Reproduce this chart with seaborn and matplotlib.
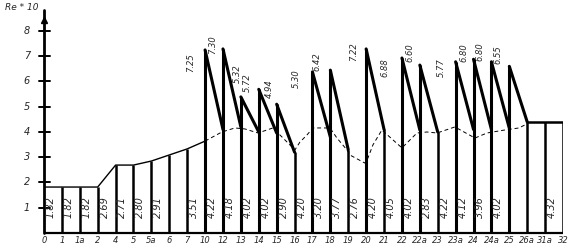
import matplotlib
matplotlib.use("Agg")
import matplotlib.pyplot as plt
import seaborn as sns

# station names along the bottom
stations = ['0', '1', '1a', '2', '4', '5', '5a', '6', '7', '10', '12', '13', '14', '15', '16',
            '17', '18', '19', '20', '21', '22', '22a', '23', '23a', '24', '24a', '25', '26a',
            '31a', '32']

# solid curve on the left part (station index, Re)
left_x = [0, 3, 4, 5, 6, 7, 8, 9]
left_re = [1.82, 1.82, 2.69, 2.69, 2.85, 3.09, 3.33, 3.64]

# dashed curve without the jumps
dash_x = [9.0, 9.94, 10.67, 11.23, 11.96, 12.79, 13.3, 14.02, 14.3, 14.69, 15.03, 15.98,
          16.37, 16.93, 17.09, 17.93, 18.1, 18.38, 18.88, 20.0, 20.84, 21.4, 21.96, 22.96,
          24.08, 24.75, 25.75, 26.54, 26.87]
dash_re = [3.64, 4.0, 4.16, 4.12, 3.96, 4.16, 3.8, 3.29, 3.6, 3.88, 4.16, 4.16,
           3.76, 3.29, 3.09, 2.77, 2.97, 3.49, 4.08, 3.37, 3.96, 4.0, 3.96, 4.2,
           3.76, 3.96, 4.08, 4.16, 4.28]

# jumps: peak at a station, then a straight fall to the next station
peak_idx = [9, 10, 11, 12, 13, 15, 16, 18, 20, 21, 23, 24, 25, 26]
peak_re = [7.25, 7.29, 5.39, 5.69, 5.10, 6.38, 6.45, 7.29, 6.93, 6.65, 6.78, 6.88, 6.78, 6.60]
drop_re = [4.10, 4.20, 4.00, 3.96, 3.20, 3.80, 3.30, 4.10, 4.08, 4.00, 4.10, 4.10, 4.15, 4.40]

# stations without a jump
plain_idx = [1, 2, 3, 4, 5, 6, 7, 8, 14, 17, 19, 22, 27, 28, 29]
plain_re = [1.82, 1.82, 1.82, 2.69, 2.69, 2.85, 3.09, 3.33, 3.20, 3.30, 4.10, 4.00, 4.40, 4.40, 4.40]

# flat end
tail_x = [27, 29]
tail_re = [4.40, 4.40]

# labels over the peaks
peak_text = ['7.25', '7.30', '5.32', '5.72', '4.94', '5.30', '6.42', '7.22',
             '6.88', '6.60', '5.77', '6.80', '6.80', '6.55']
peak_text_pos = [(8.2, 6.73), (9.4, 7.45), (10.8, 6.3), (11.35, 5.94), (12.6, 5.7),
                 (14.1, 6.1), (15.25, 6.77), (17.3, 7.17), (19.05, 6.53), (20.45, 7.13),
                 (22.2, 6.53), (23.45, 7.13), (24.35, 7.17), (25.35, 7.05)]

# labels written in the bays near the bottom
low_idx = [0, 1, 2, 3, 4, 5, 6, 8, 9, 10, 11, 12, 13, 14, 15, 16, 17, 18, 19, 20, 21, 22,
           23, 24, 25, 28]
low_text = ['1.82', '1.82', '1.82', '2.69', '2.71', '2.80', '2.91', '3.51', '4.22', '4.18',
            '4.02', '4.02', '2.90', '4.20', '3.20', '3.77', '2.76', '4.20', '4.05', '4.02',
            '2.83', '4.22', '4.12', '3.96', '4.02', '4.32']

y_ticks = [1, 2, 3, 4, 5, 6, 7, 8]

sns.set_style("white")
plt.rcParams['font.family'] = ['DejaVu Sans']

fig = plt.figure(figsize=(5.72, 2.5), dpi=100)
ax = fig.add_axes([44 / 572, 17 / 250, 519 / 572, 226 / 250])
ax.set_xlim(0, 29)
ax.set_ylim(0, 8.95)
ax.axis('off')

# base line and y axis with arrow
ax.plot([0, 29], [0, 0], color='black', lw=1.6, solid_capstyle='butt', clip_on=False)
ax.plot([0, 0], [0, 8.85], color='black', lw=2.0, clip_on=False)
ax.plot([0], [8.45], marker='^', color='black', markersize=5, clip_on=False)
for t in y_ticks:
    ax.plot([-0.28, 0.34], [t, t], color='black', lw=1.4, clip_on=False)
    ax.text(-0.95, t, str(t), ha='center', va='center', fontsize=7, style='italic')
ax.text(-1.25, 8.95, 'Re * 10', ha='center', va='center', fontsize=6.5, style='italic')

# curves
sns.lineplot(x=left_x, y=left_re, ax=ax, color='black', lw=1.0)
sns.lineplot(x=dash_x, y=dash_re, ax=ax, color='black', lw=0.7, linestyle=(0, (4, 3)))
sns.lineplot(x=tail_x, y=tail_re, ax=ax, color='black', lw=1.8)

# verticals
ax.vlines(plain_idx, 0, plain_re, color='black', lw=1.8)
ax.vlines(peak_idx, 0, peak_re, color='black', lw=2.2)
for i, p, d in zip(peak_idx, peak_re, drop_re):
    ax.plot([i, i + 1], [p, d], color='black', lw=2.2)

# texts
for s, (x, y) in zip(peak_text, peak_text_pos):
    ax.text(x, y, s, rotation=90, ha='center', va='center', fontsize=6, style='italic')
for i, s in zip(low_idx, low_text):
    ax.text(i + 0.38, 1.03, s, rotation=90, ha='center', va='center', fontsize=7,
            style='italic')
for i, s in enumerate(stations):
    ax.text(i, -0.3, s, ha='center', va='center', fontsize=6, style='italic', clip_on=False)

fig.savefig('out.png', dpi=100)
